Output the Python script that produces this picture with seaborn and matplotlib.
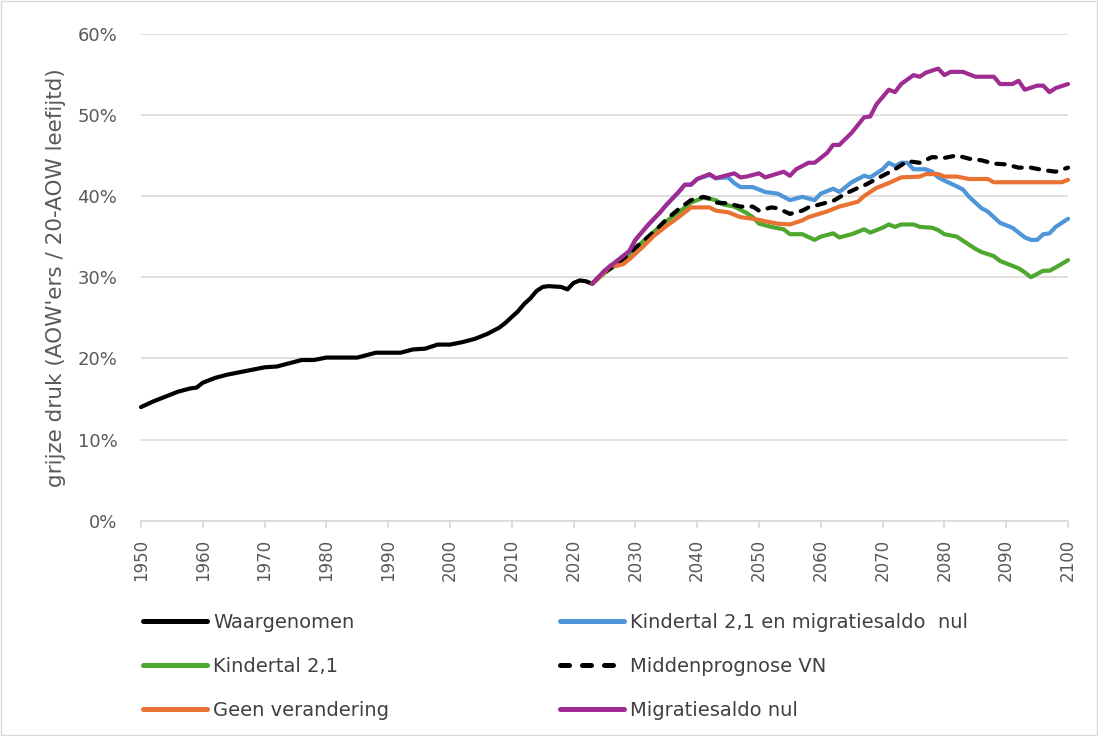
import matplotlib
matplotlib.use('Agg')
import matplotlib.pyplot as plt
import matplotlib.patches as patches
import seaborn as sns
import pandas as pd

# observed grey pressure (%)
years_obs = [1950, 1952, 1954, 1956, 1958, 1959, 1960, 1962, 1964, 1966, 1968, 1970, 1972, 1974,
             1976, 1978, 1980, 1985, 1987, 1988, 1992, 1994, 1996, 1998, 2000, 2002, 2004, 2006,
             2008, 2009, 2010, 2011, 2012, 2013, 2014, 2015, 2016, 2018, 2019, 2020, 2021, 2022, 2023]
obs = [14.0, 14.7, 15.3, 15.9, 16.3, 16.4, 17.0, 17.6, 18.0, 18.3, 18.6, 18.9, 19.0, 19.4,
       19.8, 19.8, 20.1, 20.1, 20.5, 20.7, 20.7, 21.1, 21.2, 21.7, 21.7, 22.0, 22.4, 23.0,
       23.8, 24.4, 25.1, 25.8, 26.7, 27.4, 28.3, 28.8, 28.9, 28.8, 28.5, 29.3, 29.6, 29.5, 29.2]

# Kindertal 2,1 en migratiesaldo nul
years_kmig = [2023, 2025, 2027, 2029, 2030, 2032, 2034, 2035, 2037, 2038, 2039, 2040, 2042, 2043,
              2045, 2046, 2047, 2049, 2051, 2053, 2055, 2057, 2059, 2060, 2062, 2063, 2065, 2067,
              2068, 2070, 2071, 2072, 2073, 2074, 2075, 2077, 2078, 2079, 2080, 2082, 2083, 2084,
              2086, 2087, 2089, 2090, 2091, 2093, 2094, 2095, 2096, 2097, 2098, 2100]
kmig = [29.2, 30.8, 32.0, 33.2, 34.6, 36.4, 38.0, 38.9, 40.5, 41.4, 41.4, 42.1, 42.6, 42.2,
        42.3, 41.6, 41.1, 41.1, 40.5, 40.3, 39.5, 39.9, 39.5, 40.3, 40.9, 40.5, 41.7, 42.5,
        42.3, 43.3, 44.1, 43.7, 44.1, 44.1, 43.3, 43.3, 43.0, 42.3, 41.9, 41.2, 40.8, 39.9,
        38.5, 38.1, 36.7, 36.4, 36.1, 34.9, 34.6, 34.6, 35.3, 35.4, 36.2, 37.2]

# Kindertal 2,1
years_kind = [2023, 2025, 2028, 2030, 2033, 2035, 2037, 2039, 2041, 2043, 2044, 2046, 2048, 2049,
              2050, 2052, 2054, 2055, 2057, 2059, 2060, 2062, 2063, 2065, 2067, 2068, 2070, 2071,
              2072, 2073, 2075, 2076, 2078, 2079, 2080, 2082, 2083, 2085, 2086, 2088, 2089, 2090,
              2092, 2093, 2094, 2095, 2096, 2097, 2098, 2100]
kind = [29.2, 30.5, 32.1, 33.6, 35.6, 36.9, 38.0, 39.2, 39.8, 39.5, 39.0, 38.7, 37.9, 37.4,
        36.6, 36.2, 35.9, 35.3, 35.3, 34.6, 35.0, 35.4, 34.9, 35.3, 35.9, 35.5, 36.1, 36.5,
        36.2, 36.5, 36.5, 36.2, 36.1, 35.8, 35.3, 35.0, 34.5, 33.5, 33.1, 32.6, 32.0, 31.7,
        31.1, 30.6, 30.0, 30.4, 30.8, 30.8, 31.2, 32.1]

# Middenprognose VN
years_vn = [2023, 2025, 2028, 2030, 2033, 2035, 2037, 2039, 2041, 2042, 2043, 2045, 2047, 2049,
            2050, 2052, 2053, 2055, 2057, 2058, 2060, 2062, 2064, 2066, 2067, 2069, 2072, 2074,
            2076, 2078, 2080, 2082, 2084, 2086, 2088, 2090, 2092, 2094, 2096, 2098, 2100]
vn = [29.2, 30.6, 32.2, 33.6, 35.6, 37.1, 38.4, 39.5, 39.9, 39.7, 39.2, 39.1, 38.7, 38.7,
      38.2, 38.6, 38.5, 37.8, 38.2, 38.6, 39.0, 39.4, 40.3, 41.0, 41.3, 42.1, 43.3, 44.3,
      44.1, 44.8, 44.7, 45.0, 44.6, 44.4, 44.0, 43.9, 43.5, 43.5, 43.2, 43.0, 43.5]

# Geen verandering
years_geen = [2023, 2025, 2026, 2027, 2028, 2029, 2031, 2033, 2035, 2037, 2039, 2042, 2043, 2045,
              2047, 2049, 2051, 2053, 2055, 2057, 2058, 2061, 2063, 2066, 2067, 2069, 2071, 2073,
              2076, 2077, 2079, 2080, 2082, 2084, 2087, 2088, 2099, 2100]
geen = [29.2, 30.6, 31.5, 31.4, 31.6, 32.2, 33.6, 35.1, 36.3, 37.4, 38.6, 38.6, 38.2, 38.0,
        37.4, 37.2, 36.9, 36.6, 36.5, 37.0, 37.4, 38.1, 38.7, 39.3, 40.0, 41.0, 41.6, 42.3,
        42.4, 42.7, 42.7, 42.4, 42.4, 42.1, 42.1, 41.7, 41.7, 42.0]

# Migratiesaldo nul
years_mig = [2023, 2025, 2027, 2029, 2030, 2032, 2034, 2035, 2037, 2038, 2039, 2040, 2042, 2043,
             2044, 2046, 2047, 2048, 2050, 2051, 2054, 2055, 2056, 2058, 2059, 2061, 2062, 2063,
             2065, 2067, 2068, 2069, 2071, 2072, 2073, 2075, 2076, 2077, 2079, 2080, 2081, 2083,
             2085, 2088, 2089, 2091, 2092, 2093, 2095, 2096, 2097, 2098, 2100]
mig = [29.2, 30.8, 32.0, 33.2, 34.6, 36.4, 38.0, 38.9, 40.5, 41.4, 41.4, 42.1, 42.7, 42.2,
       42.4, 42.8, 42.3, 42.4, 42.8, 42.3, 43.0, 42.5, 43.3, 44.1, 44.1, 45.3, 46.3, 46.3,
       47.8, 49.7, 49.8, 51.3, 53.1, 52.8, 53.8, 54.9, 54.7, 55.2, 55.7, 54.9, 55.3, 55.3,
       54.7, 54.7, 53.8, 53.8, 54.2, 53.1, 53.6, 53.6, 52.8, 53.3, 53.8]

x_ticks = list(range(1950, 2101, 10))
y_ticks = [0, 10, 20, 30, 40, 50, 60]

sns.set_style('white')
plt.rcParams['font.family'] = ['DejaVu Sans']

fig = plt.figure(figsize=(10.98, 7.36), dpi=100)
ax = fig.add_axes([0.1284, 0.2925, 0.8443, 0.6617])

series = [
    (years_obs, obs, 'Waargenomen', '#000000', '-'),
    (years_kmig, kmig, 'Kindertal 2,1 en migratiesaldo  nul', '#4E95D9', '-'),
    (years_kind, kind, 'Kindertal 2,1', '#4EA72E', '-'),
    (years_vn, vn, 'Middenprognose VN', '#000000', (0, (2.0, 2.2))),
    (years_geen, geen, 'Geen verandering', '#E97132', '-'),
    (years_mig, mig, 'Migratiesaldo nul', '#A02B93', '-'),
]
handles = {}
for yrs, vals, name, col, ls in series:
    df = pd.DataFrame({'jaar': yrs, 'waarde': vals})
    sns.lineplot(data=df, x='jaar', y='waarde', ax=ax, color=col, linewidth=3.0,
                 linestyle=ls, estimator=None, sort=False, clip_on=False)
    ln = ax.lines[-1]
    ln.set_solid_capstyle('round')
    ln.set_dash_capstyle('round')
    handles[name] = ln

ax.set_xlim(1950, 2100)
ax.set_ylim(0, 60)
ax.set_xticks(x_ticks)
ax.set_yticks(y_ticks)
ax.set_yticklabels([f'{v}%' for v in y_ticks])
ax.set_xticklabels([str(v) for v in x_ticks], rotation=90)
ax.set_xlabel('')
ax.set_ylabel("grijze druk (AOW'ers / 20-AOW leefijtd)", fontsize=15.5, color='#595959', labelpad=8)
ax.yaxis.grid(True, color='#d9d9d9', linewidth=1.2)
ax.set_axisbelow(True)
for s in ['top', 'right', 'left']:
    ax.spines[s].set_visible(False)
ax.spines['bottom'].set_color('#d9d9d9')
ax.spines['bottom'].set_linewidth(1.2)
ax.tick_params(axis='x', direction='out', length=5, color='#d9d9d9', width=1.2,
               labelsize=12, labelcolor='#595959', pad=8, bottom=True)
ax.tick_params(axis='y', length=0, labelsize=13, labelcolor='#595959', pad=17)
if ax.get_legend() is not None:
    ax.get_legend().remove()

order = ['Waargenomen', 'Kindertal 2,1', 'Geen verandering',
         'Kindertal 2,1 en migratiesaldo  nul', 'Middenprognose VN', 'Migratiesaldo nul']
leg = fig.legend([handles[n] for n in order], order, loc='upper left',
                 bbox_to_anchor=(0.1302, 0.167), ncol=2, frameon=False, fontsize=14,
                 handlelength=3.3, handletextpad=0.3, columnspacing=8.8, labelspacing=1.28,
                 borderaxespad=0, borderpad=0)
for t in leg.get_texts():
    t.set_color('#404040')
for n, b in zip(order, leg.legend_handles):
    b.set_linewidth(3.6)
    if n == 'Middenprognose VN':
        b.set_linestyle((0, (1.8, 2.6)))
        b.set_dash_capstyle('round')
    else:
        b.set_solid_capstyle('round')

fig.add_artist(patches.Rectangle((0.001, 0.001), 0.998, 0.998, transform=fig.transFigure,
                                 fill=False, edgecolor='#d9d9d9', linewidth=1))

fig.savefig('out.png', dpi=100)
